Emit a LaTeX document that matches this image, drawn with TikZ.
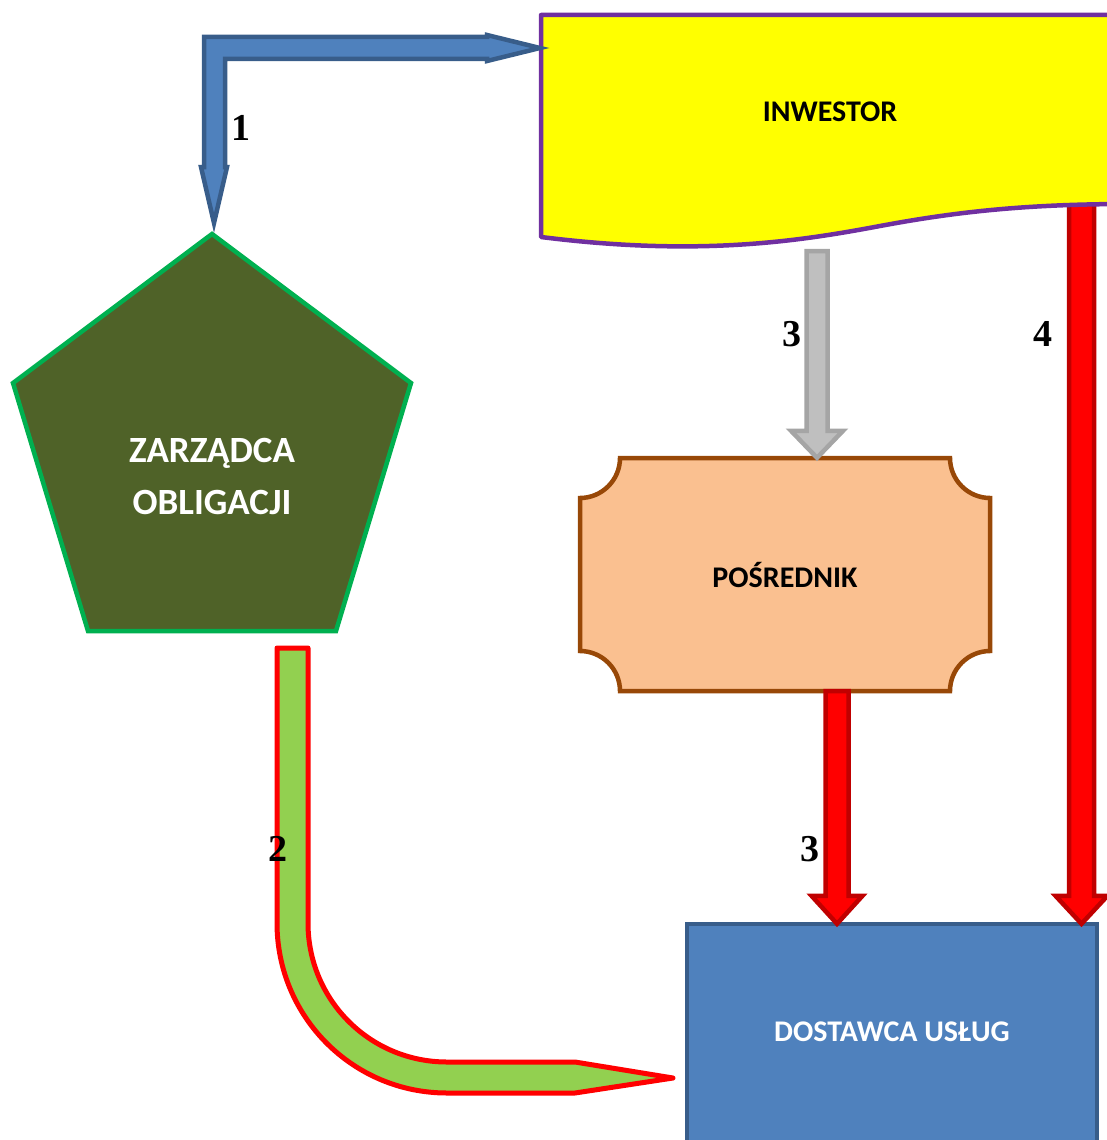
\documentclass[tikz,border=0pt]{standalone}
\usepackage{fontspec}
\setmainfont{Liberation Serif}
\newfontfamily\boxfont{Carlito}
\usetikzlibrary{
  arrows.meta,
  positioning,
  calc
}
\usepackage{xcolor}
\definecolor{inwFill}{RGB}{255,255,0}
\definecolor{inwDraw}{RGB}{112,48,160}
\definecolor{zarFill}{RGB}{79,98,40}
\definecolor{zarDraw}{RGB}{0,176,80}
\definecolor{posFill}{RGB}{250,192,144}
\definecolor{posDraw}{RGB}{152,72,7}
\definecolor{dosFill}{RGB}{79,129,189}
\definecolor{dosDraw}{RGB}{56,93,138}
\definecolor{greyFill}{RGB}{191,191,191}
\definecolor{greyDraw}{RGB}{165,165,165}
\definecolor{redFill}{RGB}{255,0,0}
\definecolor{redDraw}{RGB}{192,0,0}
\definecolor{greenFill}{RGB}{146,208,80}
\tikzset{
  box/.style={
    font=\boxfont\bfseries\fontsize{30}{52}\selectfont,
    align=center,
    inner sep = 0pt
  },
  bigBox/.style={
    box,
    font=\boxfont\bfseries\fontsize{37}{52}\selectfont
  },
  num/.style={
    font=\bfseries\fontsize{38}{40}\selectfont,
    inner sep = 0pt
  },
  blueArrow/.style={fill=dosFill, draw=dosDraw, line width=4.5pt},
  greyArrow/.style={fill=greyFill, draw=greyDraw, line width=4.5pt},
  redArrow/.style={fill=redFill, draw=redDraw, line width=4.5pt},
  greenArrow/.style={fill=greenFill, draw=redFill, line width=5pt, line join=round}
}
% straight block arrow going down: style, from, to, half shaft, half head, head length
\newcommand{\downBlock}[6]{%
  \draw[#1] let \p1=(#2), \p2=(#3) in
    (\x1-#4,\y1) -- (\x1+#4,\y1) -- (\x1+#4,\y2+#6) -- (\x1+#5,\y2+#6)
    -- (\x1,\y2) -- (\x1-#5,\y2+#6) -- (\x1-#4,\y2+#6) -- cycle;}

\begin{document}
\begin{tikzpicture}[x=1pt,y=-1pt]
    \useasboundingbox (0,0) rectangle (1107,1140);
    \clip (0,0) rectangle (1107,1140);

    % boxes
    \draw[fill=dosFill, draw=dosDraw, line width=4pt] (687,924) rectangle (1097,1170);
    \node[box, minimum width=410, minimum height=216, text=white]
      (dostawca) at (892,1032) {DOSTAWCA USŁUG};
    \node[box, minimum width=410, minimum height=233] (posrednik) at (785,574.5) {};
    \node[box] (inwestor) at (830,112) {};
    \node[box] (zarzadca) at (212,476) {};

    \coordinate (inwIn)  at (540,48);
    \coordinate (zarIn)  at (214,223);
    \coordinate (zarOut) at (292.5,648);
    \coordinate (dosIn)  at (673,1078);
    \coordinate (inwOut3) at (817,251);
    \coordinate (inwOut4) at (1081.5,200);

    % 4: behind the wave
    \downBlock{redArrow}{inwOut4}{dostawca.north -| inwOut4}{12.5pt}{26pt}{28pt}

    \draw[fill=inwFill, draw=inwDraw, line width=4.5pt, line join=round]
      (541,15) -- (1130,15) -- (1130,204)
      .. controls (1020,204) and (950,213) .. (880,226)
      .. controls (800,241) and (700,257) .. (541,237) -- cycle;
    \node[box] at (inwestor) {INWESTOR};

    \draw[fill=zarFill, draw=zarDraw, line width=4.5pt]
      (212,234) -- (411,383) -- (336,631) -- (88,631) -- (13,383) -- cycle;
    \node[bigBox, text=white] at (zarzadca) {ZARZĄDCA\\OBLIGACJI};

    \draw[fill=posFill, draw=posDraw, line width=4.5pt]
      (620,458) -- (950,458) .. controls (950,480) and (968,498) .. (990,498)
      -- (990,651) .. controls (968,651) and (950,669) .. (950,691)
      -- (620,691) .. controls (620,669) and (602,651) .. (580,651)
      -- (580,498) .. controls (602,498) and (620,480) .. (620,458) -- cycle;
    \node[box] at (posrednik) {POŚREDNIK};

    % 1
    \draw[blueArrow] let \p1=(inwIn), \p2=(zarIn) in
      (\x2-10pt,\y1+11pt) -- (\x1-53pt,\y1+11pt) -- (\x1-53pt,\y1+13pt)
      -- (\x1,\y1) -- (\x1-53pt,\y1-13pt) -- (\x1-53pt,\y1-11pt)
      -- (\x2+11pt,\y1-11pt) -- (\x2+11pt,\y2+56pt) -- (\x2+13pt,\y2+56pt)
      -- (\x2,\y2) -- (\x2-13pt,\y2+56pt) -- (\x2-10pt,\y2+56pt) -- cycle;

    % 2
    \draw[greenArrow] let \p1=(zarOut), \p2=(dosIn) in
      (\x1-15.5pt,\y1) -- (\x1-15.5pt,\y2+155pt)
      .. controls (\x1-15.5pt,\y2+61pt) and (\x1+60.5pt,\y2-15pt) .. (\x1+154.5pt,\y2-15pt)
      -- (\x2-98pt,\y2-15pt) -- (\x2,\y2) -- (\x2-98pt,\y2+16pt) -- (\x1+154.5pt,\y2+16pt)
      .. controls (\x1+77.5pt,\y2+16pt) and (\x1+15.5pt,\y2+78pt) .. (\x1+15.5pt,\y2+155pt)
      -- (\x1+15.5pt,\y1) -- cycle;

    % 3
    \downBlock{greyArrow}{inwOut3}{posrednik.north -| inwOut3}{10.5pt}{26pt}{27pt}
    \downBlock{redArrow}{$(posrednik.south)+(52,0)$}{$(dostawca.north)+(-55,0)$}{11.5pt}{25.5pt}{28pt}

    % labels
    \node[num] (l1) at (241,128) {1};
    \node[num] (l2) at (278,849) {2};
    \node[num] (l3a) at (792,334) {3};
    \node[num] (l3b) at (810,849) {3};
    \node[num] (l4) at (1043,334) {4};
\end{tikzpicture}
\end{document}
